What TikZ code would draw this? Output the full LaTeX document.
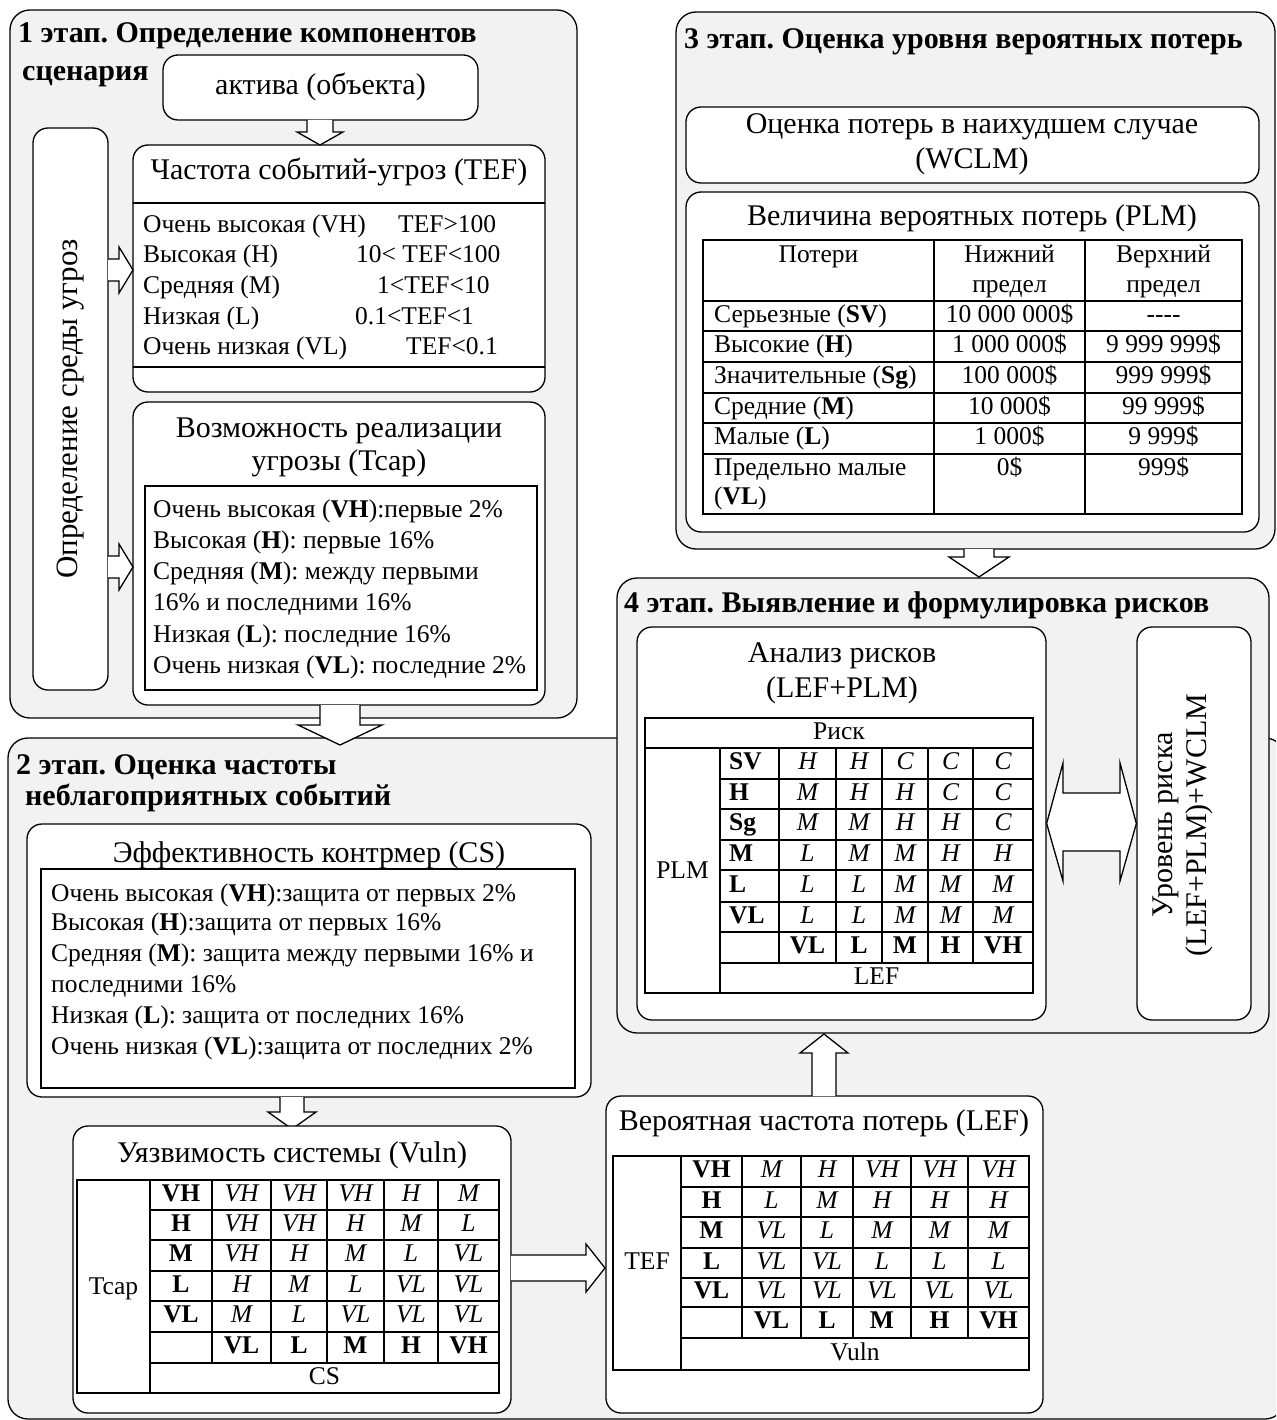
\documentclass[tikz,border=0pt]{standalone}
\usepackage{fontspec}
\setmainfont{Liberation Serif}
\usetikzlibrary{fit}
\definecolor{panelgray}{RGB}{242,242,242}
\frenchspacing

% hollow block arrows: centre, start, head base, tip, half shaft, half head
\newcommand\blockv[6]{\path[blk] (#1-#5,#2) -- (#1-#5,#3) -- (#1-#6,#3) -- (#1,#4) -- (#1+#6,#3) -- (#1+#5,#3) -- (#1+#5,#2);}
\newcommand\blockh[6]{\path[blk] (#2,#1-#5) -- (#3,#1-#5) -- (#3,#1-#6) -- (#4,#1) -- (#3,#1+#6) -- (#3,#1+#5) -- (#2,#1+#5);}

\tikzset{
  panel/.style={draw=black, line width=1.3pt, fill=panelgray, rounded corners=20pt, inner sep=0pt},
  box/.style={draw=black, line width=1.3pt, fill=white, rounded corners=15pt, inner sep=0pt},
  frame/.style={draw=black, line width=1.3pt, fill=white},
  tbl/.style={draw=black, line width=2pt},
  blk/.style={draw=black, line width=1.3pt, fill=white, line join=miter},
  ttl/.style={font=\fontsize{30}{36}\selectfont\bfseries, anchor=west, inner sep=0pt, text height=21pt, text depth=7pt},
  bigtxt/.style={font=\fontsize{30}{36}\selectfont, inner sep=0pt, text height=21pt, text depth=7pt},
  txt/.style={font=\fontsize{25.5}{30}\selectfont, anchor=west, inner sep=0pt, text height=18pt, text depth=6pt},
  cell/.style={font=\fontsize{25.5}{30}\selectfont, inner sep=0pt, text height=18pt, text depth=6pt},
  icell/.style={cell, font=\fontsize{25.5}{30}\selectfont\itshape},
  bcell/.style={cell, font=\fontsize{25.5}{30}\selectfont\bfseries},
}

\begin{document}
\begin{tikzpicture}[x=1pt,y=-1pt]
\path[use as bounding box, fill=white] (0,0) rectangle (1276,1420);
\clip (0,0) rectangle (1276,1420);

% ---------- panels ----------
\node[panel, fit={(676,12) (1275,549)}] (s3) {};
\node[panel, fit={(8,738) (1285,1419)}] (s2) {};
\node[panel, fit={(10,10) (577,718)}] (s1) {};
\node[panel, fit={(617,578) (1269,1033)}] (s4) {};

% ---------- stage 1 ----------
\node[ttl] (s1a) at (18,36) {1 этап. Определение компонентов};
\node[ttl] (s1b) at (22,74) {сценария};
\node[box, fit={(163,55) (478,120)}] (aktiva) {};
\node[bigtxt] (aktivat) at (aktiva.center) {актива (объекта)};

\node[box, fit={(33,128) (108,690)}] (env) {};
\node[bigtxt, font=\fontsize{31}{36}\selectfont, rotate=90] (envt) at (env.center) {Определение среды угроз};

\node[box, fit={(133,145) (545,392)}] (tef) {};
\node[bigtxt] (teft) at (339,173) {Частота событий-угроз (TEF)};
\draw[line width=1.3pt] (133,203) -- (545,203) (133,367) -- (545,367);
\node[txt] (tef1) at (143,227) {Очень высокая (VH)};
\node[txt] (tef2) at (143,257) {Высокая (H)};
\node[txt] (tef3) at (143,288) {Средняя (M)};
\node[txt] (tef4) at (143,318) {Низкая (L)};
\node[txt] (tef5) at (143,348) {Очень низкая (VL)};
\node[txt] (tefv1) at (398,227) {TEF>100};
\node[txt] (tefv2) at (356,257) {10< TEF<100};
\node[txt] (tefv3) at (377,288) {1<TEF<10};
\node[txt] (tefv4) at (355,318) {0.1<TEF<1};
\node[txt] (tefv5) at (406,348) {TEF<0.1};

\node[box, fit={(133,402) (545,705)}] (tcap) {};
\node[bigtxt] (tcapt1) at (339,430) {Возможность реализации};
\node[bigtxt] (tcapt2) at (339,463) {угрозы (Tcap)};
\node[frame, fit={(145,486) (537,690)}, inner sep=0pt] (tcapl) {};
\node[txt] (tc1) at (153,511) {Очень высокая (\textbf{VH}):первые 2\%};
\node[txt] (tc2) at (153,542) {Высокая (\textbf{H}): первые 16\%};
\node[txt] (tc3) at (153,573) {Средняя (\textbf{M}): между первыми};
\node[txt] (tc4) at (153,604) {16\% и последними 16\%};
\node[txt] (tc5) at (153,636) {Низкая (\textbf{L}): последние 16\%};
\node[txt] (tc6) at (153,667) {Очень низкая (\textbf{VL}): последние 2\%};

\blockv{320}{120}{132}{145}{13}{23}
\blockh{270}{108}{119}{133}{11}{23}
\blockh{567}{108}{119}{133}{11}{23}

% ---------- stage 2 ----------
\node[ttl] (s2a) at (16,767) {2 этап. Оценка частоты};
\node[ttl] (s2b) at (25,798) {неблагоприятных событий};

\node[box, fit={(27,824) (591,1097)}] (cs) {};
\node[bigtxt] (cst) at (309,855) {Эффективность контрмер (CS)};
\node[frame, fit={(41,869) (575,1088)}, inner sep=0pt] (csl) {};
\node[txt] (cs1) at (51,895) {Очень высокая (\textbf{VH}):защита от первых 2\%};
\node[txt] (cs2) at (51,924) {Высокая (\textbf{H}):защита от первых 16\%};
\node[txt] (cs3) at (51,955) {Средняя (\textbf{M}): защита между первыми 16\% и};
\node[txt] (cs4) at (51,986) {последними 16\%};
\node[txt] (cs5) at (51,1017) {Низкая (\textbf{L}): защита от последних 16\%};
\node[txt] (cs6) at (51,1048) {Очень низкая (\textbf{VL}):защита от последних 2\%};

\blockv{292}{1097}{1112}{1129}{12}{24}

% vulnerability matrix
\node[box, fit={(73,1126) (511,1413)}] (vuln) {};
\node[bigtxt] (vulnt) at (292,1155) {Уязвимость системы (Vuln)};
\draw[tbl, fill=white] (77,1180) rectangle (499,1393);
\draw[tbl] (150,1180) -- (150,1393);
\foreach \y in {1210,1240,1271,1301,1332,1363} \draw[tbl] (150,\y) -- (499,\y);
\foreach \x in {212,271,327,384,438} \draw[tbl] (\x,1180) -- (\x,1363);
\node[cell] (vt) at (113.5,1288) {Tcap};
\foreach \y/\h/\a/\b/\c/\d/\e in {1195/VH/VH/VH/VH/H/M, 1225/H/VH/VH/H/M/L, 1255.5/M/VH/H/M/L/VL, 1286/L/H/M/L/VL/VL, 1316.5/VL/M/L/VL/VL/VL}{
  \node[bcell] (v-\h) at (181,\y) {\h};
  \node[icell] (v-\h-1) at (241.5,\y) {\a};
  \node[icell] (v-\h-2) at (299,\y) {\b};
  \node[icell] (v-\h-3) at (355.5,\y) {\c};
  \node[icell] (v-\h-4) at (411,\y) {\d};
  \node[icell] (v-\h-5) at (468.5,\y) {\e};
}
\foreach \x/\v in {241.5/VL,299/L,355.5/M,411/H,468.5/VH} \node[bcell] (vc-\v) at (\x,1347.5) {\v};
\node[cell] (vcs) at (324.5,1378) {CS};

\blockh{1268}{511}{586}{605}{13}{24}

% loss event frequency matrix
\node[box, fit={(606,1096) (1043,1413)}] (lef) {};
\node[bigtxt] (left) at (824,1123) {Вероятная частота потерь (LEF)};
\draw[tbl, fill=white] (613,1156) rectangle (1029,1370);
\draw[tbl] (681,1156) -- (681,1370);
\foreach \y in {1187,1217,1248,1278,1307,1338} \draw[tbl] (681,\y) -- (1029,\y);
\foreach \x in {742,801,853,911,968} \draw[tbl] (\x,1156) -- (\x,1338);
\node[cell] (lt) at (647,1263) {TEF};
\foreach \y/\h/\a/\b/\c/\d/\e in {1171.5/VH/M/H/VH/VH/VH, 1202/H/L/M/H/H/H, 1232.5/M/VL/L/M/M/M, 1263/L/VL/VL/L/L/L, 1292.5/VL/VL/VL/VL/VL/VL}{
  \node[bcell] (l-\h) at (711.5,\y) {\h};
  \node[icell] (l-\h-1) at (771.5,\y) {\a};
  \node[icell] (l-\h-2) at (827,\y) {\b};
  \node[icell] (l-\h-3) at (882,\y) {\c};
  \node[icell] (l-\h-4) at (939.5,\y) {\d};
  \node[icell] (l-\h-5) at (998.5,\y) {\e};
}
\foreach \x/\v in {771.5/VL,827/L,882/M,939.5/H,998.5/VH} \node[bcell] (lc-\v) at (\x,1322.5) {\v};
\node[cell] (lvuln) at (855,1354) {Vuln};

\blockv{824}{1096}{1053}{1034}{12}{24}

% ---------- stage 3 ----------
\node[ttl] (s3a) at (684,42) {3 этап. Оценка уровня вероятных потерь};
\node[box, fit={(686,107) (1259,183)}] (wclm) {};
\node[bigtxt] (wclm1) at (972,127) {Оценка потерь в наихудшем случае};
\node[bigtxt] (wclm2) at (972,162) {(WCLM)};
\node[box, fit={(686,192) (1259,532)}] (plm) {};
\node[bigtxt] (plmt) at (972,219) {Величина вероятных потерь (PLM)};
\draw[tbl, fill=white] (703,240) rectangle (1242,514);
\draw[tbl] (934,240) -- (934,514) (1085,240) -- (1085,514);
\foreach \y in {301,331,362,393,423,454} \draw[tbl] (703,\y) -- (1242,\y);
\node[cell] (p0a) at (818.5,257) {Потери};
\node[cell] (p0b) at (1009.5,257) {Нижний};
\node[cell] (p0c) at (1009.5,287) {предел};
\node[cell] (p0d) at (1163.5,257) {Верхний};
\node[cell] (p0e) at (1163.5,287) {предел};
\foreach \y/\n/\lo/\hi [count=\i] in {316/Серьезные (\textbf{SV})/10 000 000\$/{-}{-}{-}{-}, 346/Высокие (\textbf{H})/1 000 000\$/9 999 999\$, 377.5/Значительные (\textbf{Sg})/100 000\$/999 999\$, 408/Средние (\textbf{M})/10 000\$/99 999\$, 438.5/Малые (\textbf{L})/1 000\$/9 999\$}{
  \node[txt] (p\i n) at (714,\y) {\n};
  \node[cell] (p\i l) at (1009.5,\y) {\lo};
  \node[cell] (p\i h) at (1163.5,\y) {\hi};
}
\node[txt] (p6n) at (714,469) {Предельно малые};
\node[txt] (p6m) at (714,498) {(\textbf{VL})};
\node[cell] (p6l) at (1009.5,469) {0\$};
\node[cell] (p6h) at (1163.5,469) {999\$};

\blockv{979}{549}{557}{577}{15}{30}

% ---------- stage 4 ----------
\node[ttl] (s4a) at (624,605) {4 этап. Выявление и формулировка рисков};
\node[box, fit={(637,627) (1046,1020)}] (risk) {};
\node[bigtxt] (risk1) at (842,655) {Анализ рисков};
\node[bigtxt] (risk2) at (842,690) {(LEF+PLM)};
\draw[tbl, fill=white] (645,718) rectangle (1033,993);
\draw[tbl] (645,748) -- (1033,748) (720,748) -- (720,993) (779,748) -- (779,963);
\foreach \y in {779,809,840,870,902,932,963} \draw[tbl] (720,\y) -- (1033,\y);
\foreach \x in {836,882,928,973} \draw[tbl] (\x,748) -- (\x,963);
\node[cell] (rr) at (839,733) {Риск};
\node[cell] (rplm) at (682.5,872) {PLM};
\foreach \y/\h/\a/\b/\c/\d/\e in {763.5/SV/H/H/C/C/C, 794/H/M/H/H/C/C, 824.5/Sg/M/M/H/H/C, 855/M/L/M/M/H/H, 886/L/L/L/M/M/M, 917/VL/L/L/M/M/M}{
  \node[bcell, anchor=west] (r-\h) at (729,\y) {\h};
  \node[icell] (r-\h-1) at (807.5,\y) {\a};
  \node[icell] (r-\h-2) at (859,\y) {\b};
  \node[icell] (r-\h-3) at (905,\y) {\c};
  \node[icell] (r-\h-4) at (950.5,\y) {\d};
  \node[icell] (r-\h-5) at (1003,\y) {\e};
}
\foreach \x/\v in {807.5/VL,859/L,905/M,950.5/H,1003/VH} \node[bcell] (rc-\v) at (\x,947.5) {\v};
\node[cell] (rlef) at (876.5,978) {LEF};

\node[box, fit={(1137,627) (1251,1020)}] (level) {};
\node[bigtxt, rotate=90] (level1) at (1165,825) {Уровень риска};
\node[bigtxt, rotate=90] (level2) at (1199,825) {(LEF+PLM)+WCLM};

\path[blk] (risk.east) -- (1063,763) -- (1063,793) -- (1120,793) -- (1120,763) -- (level.west)
  -- (1120,881) -- (1120,851) -- (1063,851) -- (1063,881) -- cycle;

% ---------- arrow from stage 1 to stage 2 ----------
\blockv{340}{705}{725}{745}{20}{42}
\end{tikzpicture}
\end{document}
